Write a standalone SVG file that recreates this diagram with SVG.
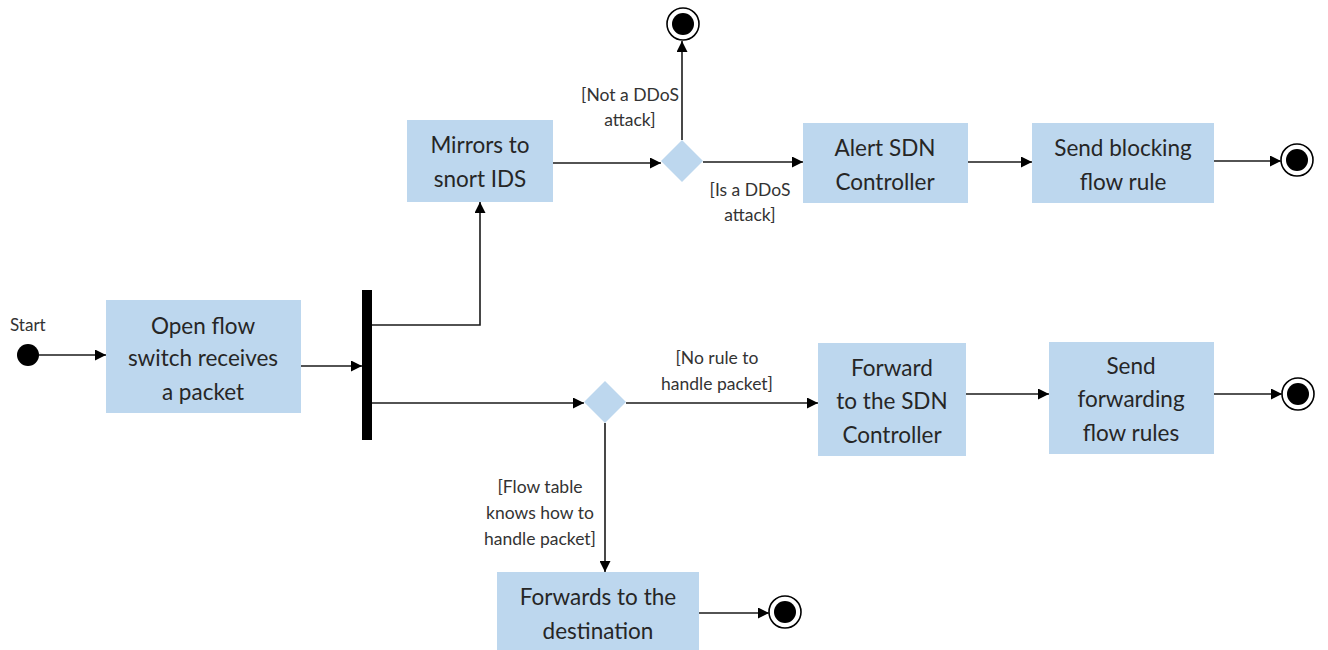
<svg xmlns="http://www.w3.org/2000/svg" width="1328" height="650" viewBox="0 0 1328 650">
<defs>
<style>
.box{fill:#bdd7ee;stroke:none}
.t{font-family:Lato,"Open Sans","Liberation Sans",sans-serif;font-size:22.5px;fill:#262626;text-anchor:middle}
.l{font-family:Lato,"Open Sans","Liberation Sans",sans-serif;font-size:17.5px;fill:#333;text-anchor:middle}
.c{fill:none;stroke:#1a1a1a;stroke-width:1.6}
.dia{fill:#bdd7ee}
.end-o{fill:#fff;stroke:#000;stroke-width:1.6}
.end-i{fill:#000}
</style>
<marker id="ah" viewBox="0 0 10 10" refX="10" refY="5" markerWidth="11" markerHeight="11" markerUnits="userSpaceOnUse" orient="auto">
<path d="M0,0 L10,5 L0,10 Z" fill="#000"/>
</marker>
</defs>
<rect width="1328" height="650" fill="#fff"/>

<g id="start">
<text x="10" y="331" font-family="Lato,'Open Sans','Liberation Sans',sans-serif" font-size="17" fill="#333">Start</text>
<circle cx="28" cy="355" r="11" fill="#000"/>
</g>

<g id="n-receive">
<rect class="box" x="106" y="300" width="195" height="113"/>
<text class="t" x="203" y="334">Open flow</text>
<text class="t" x="203" y="366">switch receives</text>
<text class="t" x="203" y="400">a packet</text>
</g>

<g id="fork">
<rect x="362" y="290" width="10" height="150" fill="#000"/>
</g>

<g id="n-mirror">
<rect class="box" x="407" y="120" width="146" height="82"/>
<text class="t" x="480" y="153">Mirrors to</text>
<text class="t" x="480" y="187">snort IDS</text>
</g>

<g id="d-ddos">
<path class="dia" d="M682,140 L703,161 L682,182 L661,161 Z"/>
</g>

<g id="end-1">
<circle class="end-o" cx="683" cy="24" r="16"/>
<circle class="end-i" cx="683" cy="24" r="11"/>
</g>

<g id="n-alert">
<rect class="box" x="803" y="123" width="165" height="80"/>
<text class="t" x="885" y="156">Alert SDN</text>
<text class="t" x="885" y="190">Controller</text>
</g>

<g id="n-block">
<rect class="box" x="1032" y="123" width="182" height="80"/>
<text class="t" x="1123" y="156">Send blocking</text>
<text class="t" x="1123" y="190">flow rule</text>
</g>

<g id="end-2">
<circle class="end-o" cx="1297" cy="160" r="16"/>
<circle class="end-i" cx="1297" cy="160" r="11"/>
</g>

<g id="d-rule">
<path class="dia" d="M605,381 L626,402 L605,423 L584,402 Z"/>
</g>

<g id="n-forward">
<rect class="box" x="818" y="343" width="148" height="113"/>
<text class="t" x="892" y="376">Forward</text>
<text class="t" x="892" y="409">to the SDN</text>
<text class="t" x="892" y="443">Controller</text>
</g>

<g id="n-sendfwd">
<rect class="box" x="1049" y="342" width="165" height="112"/>
<text class="t" x="1131" y="374">Send</text>
<text class="t" x="1131" y="407">forwarding</text>
<text class="t" x="1131" y="441">flow rules</text>
</g>

<g id="end-3">
<circle class="end-o" cx="1298" cy="394" r="16"/>
<circle class="end-i" cx="1298" cy="394" r="11"/>
</g>

<g id="n-dest">
<rect class="box" x="497" y="572" width="202" height="80"/>
<text class="t" x="598" y="605">Forwards to the</text>
<text class="t" x="598" y="639">destination</text>
</g>

<g id="end-4">
<circle class="end-o" cx="785" cy="612" r="16"/>
<circle class="end-i" cx="785" cy="612" r="11"/>
</g>

<g id="connectors">
<path class="c" d="M39,355 L106,355" marker-end="url(#ah)"/>
<path class="c" d="M301,366 L362,366" marker-end="url(#ah)"/>
<path class="c" d="M372,325 L480,325 L480,202" marker-end="url(#ah)"/>
<path class="c" d="M553,163 L661,163" marker-end="url(#ah)"/>
<path class="c" d="M682,140 L682,41" marker-end="url(#ah)"/>
<path class="c" d="M703,162 L803,162" marker-end="url(#ah)"/>
<path class="c" d="M968,162 L1032,162" marker-end="url(#ah)"/>
<path class="c" d="M1214,161 L1281,161" marker-end="url(#ah)"/>
<path class="c" d="M372,403 L584,403" marker-end="url(#ah)"/>
<path class="c" d="M626,403 L818,403" marker-end="url(#ah)"/>
<path class="c" d="M966,394 L1049,394" marker-end="url(#ah)"/>
<path class="c" d="M1214,394 L1282,394" marker-end="url(#ah)"/>
<path class="c" d="M605,423 L605,572" marker-end="url(#ah)"/>
<path class="c" d="M699,613 L769,613" marker-end="url(#ah)"/>
</g>

<g id="labels">
<text class="l" x="630" y="101">[Not a DDoS</text>
<text class="l" x="630" y="126">attack]</text>
<text class="l" x="750" y="196">[Is a DDoS</text>
<text class="l" x="750" y="221">attack]</text>
<text class="l" x="717" y="364">[No rule to</text>
<text class="l" x="717" y="390">handle packet]</text>
<text class="l" x="540" y="493">[Flow table</text>
<text class="l" x="540" y="519">knows how to</text>
<text class="l" x="540" y="545">handle packet]</text>
</g>
</svg>
